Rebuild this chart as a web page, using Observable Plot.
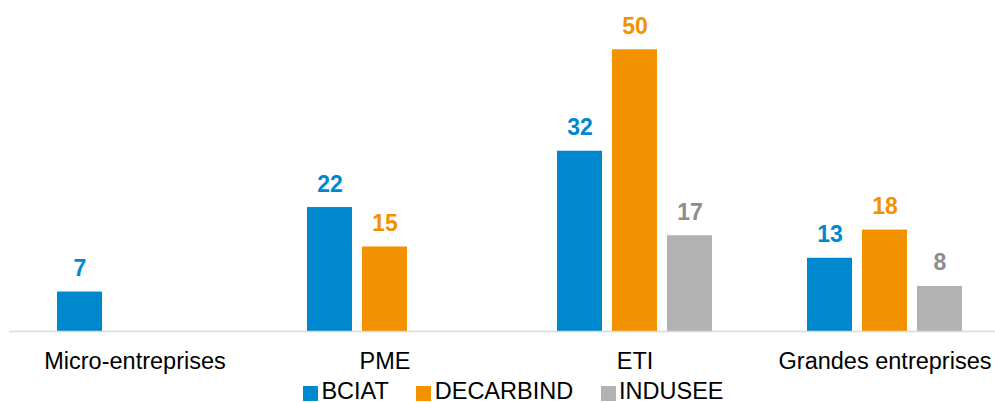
<!DOCTYPE html>
<html><head><meta charset="utf-8">
<script src="https://cdn.jsdelivr.net/npm/d3@7"></script>
<script src="https://cdn.jsdelivr.net/npm/@observablehq/plot@0.6"></script>
<style>
html,body{margin:0;padding:0;background:#fff;overflow:hidden;width:995px;height:403px}
#chart{position:absolute;left:0;top:0;width:1010px}
#chart svg{max-width:none !important}
#legend{position:absolute;left:303px;top:381px;height:20px;line-height:20px;font-family:"Liberation Sans",Arial,sans-serif;font-size:23.5px;color:#000;white-space:nowrap}
.item{display:inline-block;margin-right:27.5px}
.sw{display:inline-block;width:15px;height:15px;vertical-align:-2px;margin-right:3.4px}
</style></head><body>
<div id="chart"></div><div id="legend"></div>
<script>
const categories = ["Micro-entreprises", "PME", "ETI", "Grandes entreprises"];
const seriesNames = ["BCIAT", "DECARBIND", "INDUSEE"];
const bciat = [7, 22, 32, 13];
const decarbind = [null, 15, 50, 18];
const indusee = [null, null, 17, 8];
const barColors = ["#0088CE", "#F39200", "#B2B2B2"];
const labelColors = ["#0088CE", "#F39200", "#8C8C8C"];

const rows = [];
[bciat, decarbind, indusee].forEach((vals, s) =>
  vals.forEach((v, i) => { if (v != null) rows.push({cat: categories[i], series: seriesNames[s], value: v}); })
);

const labelMarks = seriesNames.map((name, s) =>
  Plot.text(rows.filter(d => d.series === name), {
    fx: "cat", x: "series", y: "value",
    text: d => String(d.value),
    fill: labelColors[s],
    lineAnchor: "bottom", dy: -16,
    fontSize: 23, fontWeight: "bold"
  })
);

const chart = Plot.plot({
  width: 1010, height: 375,
  marginLeft: 9.5, marginRight: 0.5, marginTop: 49.3, marginBottom: 44,
  style: {fontFamily: "'Liberation Sans', Arial, sans-serif", background: "#fff", maxWidth: "none"},
  fx: {domain: categories, paddingInner: 0, paddingOuter: 0, round: false, label: null},
  x: {domain: seriesNames, paddingInner: 10/55, paddingOuter: 0.8636, round: false, axis: null},
  y: {domain: [0, 50], axis: null},
  color: {domain: seriesNames, range: barColors},
  marks: [
    Plot.barY(rows, {fx: "cat", x: "series", y: "value", fill: "series"}),
    Plot.ruleY([0], {stroke: "#d9d9d9", strokeWidth: 1.5}),
    ...labelMarks,
    Plot.axisFx({anchor: "bottom", tickSize: 0, tickPadding: 20.5, fontSize: 23.5, label: null, fill: "#000"})
  ]
});
document.getElementById("chart").appendChild(chart);

const legend = document.getElementById("legend");
seriesNames.forEach((name, s) => {
  const item = document.createElement("span");
  item.className = "item";
  const sw = document.createElement("span");
  sw.className = "sw";
  sw.style.background = barColors[s];
  item.appendChild(sw);
  item.appendChild(document.createTextNode(name));
  legend.appendChild(item);
});
</script>
</body></html>
